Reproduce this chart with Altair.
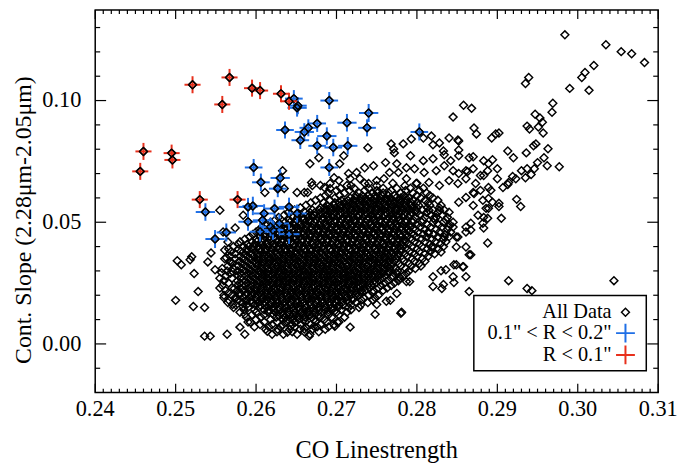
import altair as alt
import pandas as pd

FONT = "Liberation Serif"
W, H = 568, 386
X_DOM = [0.24, 0.31]
Y_DOM = [-0.02, 0.1372]
RED = "#e8301c"
BLUE = "#1f6fe6"

# ---------------- data ----------------
# "All Data": isolated / outer diamonds (CO linestrength, continuum slope)
sparse_pts = [
    (0.2984, 0.1270), (0.3035, 0.1229), (0.3054, 0.1201), (0.3067, 0.1192), (0.3083, 0.1156),
    (0.3020, 0.1144), (0.3009, 0.1115), (0.3005, 0.1095), (0.3014, 0.1042), (0.2990, 0.1050),
    (0.2939, 0.1095), (0.2935, 0.1070), (0.2969, 0.0989), (0.2968, 0.0952), (0.2947, 0.0944),
    (0.2953, 0.0928), (0.2956, 0.0911), (0.2937, 0.0895), (0.2940, 0.0883), (0.2951, 0.0891),
    (0.2957, 0.0867), (0.2858, 0.0981), (0.2868, 0.0968), (0.2871, 0.0887), (0.2874, 0.0863),
    (0.2893, 0.0846), (0.2898, 0.0863), (0.2902, 0.0867), (0.2852, 0.0834), (0.2852, 0.0797),
    (0.2870, 0.0769), (0.2913, 0.0793), (0.2920, 0.0765), (0.2936, 0.0785), (0.2945, 0.0814),
    (0.2948, 0.0822), (0.2963, 0.0802), (0.2958, 0.0765), (0.2950, 0.0745), (0.2962, 0.0732),
    (0.2977, 0.0728), (0.2883, 0.0753), (0.2889, 0.0740), (0.2894, 0.0757), (0.2900, 0.0720),
    (0.2888, 0.0712), (0.2883, 0.0692), (0.2861, 0.0712), (0.2852, 0.0700), (0.2930, 0.0712),
    (0.2937, 0.0720), (0.2946, 0.0720), (0.2942, 0.0696), (0.2935, 0.0683), (0.2919, 0.0688),
    (0.2923, 0.0679), (0.2913, 0.0655), (0.2914, 0.0663), (0.2900, 0.0679), (0.2907, 0.0643),
    (0.2892, 0.0631), (0.2879, 0.0631), (0.2870, 0.0622), (0.2882, 0.0590), (0.2889, 0.0598),
    (0.2902, 0.0578), (0.2894, 0.0582), (0.2902, 0.0565), (0.2924, 0.0594), (0.2929, 0.0565),
    (0.2886, 0.0557), (0.2883, 0.0520), (0.2905, 0.0516), (0.2882, 0.0496), (0.2867, 0.0496),
    (0.2861, 0.0480), (0.2867, 0.0468), (0.2888, 0.0415), (0.2851, 0.0439), (0.2861, 0.0398),
    (0.2867, 0.0366), (0.2857, 0.0317), (0.2861, 0.0276), (0.2914, 0.0260), (0.2937, 0.0228),
    (0.2943, 0.0219), (0.3045, 0.0260), (0.2865, 0.0215),
    (0.2845, 0.0932), (0.2818, 0.0854), (0.2828, 0.0826), (0.2840, 0.0846), (0.2851, 0.0838),
    (0.2833, 0.0793), (0.2820, 0.0818), (0.2808, 0.0846), (0.2793, 0.0842), (0.2783, 0.0822),
    (0.2768, 0.0822), (0.2771, 0.0801), (0.2772, 0.0785), (0.2792, 0.0773), (0.2808, 0.0753),
    (0.2820, 0.0761), (0.2834, 0.0777), (0.2842, 0.0753), (0.2852, 0.0773), (0.2865, 0.0765),
    (0.2870, 0.0720), (0.2863, 0.0708), (0.2845, 0.0712), (0.2834, 0.0732), (0.2824, 0.0712),
    (0.2809, 0.0704), (0.2797, 0.0720), (0.2787, 0.0724), (0.2775, 0.0740), (0.2761, 0.0745),
    (0.2739, 0.0806), (0.2746, 0.0732), (0.2735, 0.0724), (0.2725, 0.0704), (0.2715, 0.0700),
    (0.2704, 0.0740), (0.2709, 0.0773), (0.2667, 0.0740), (0.2678, 0.0765), (0.2669, 0.0663),
    (0.2680, 0.0651), (0.2692, 0.0659), (0.2697, 0.0683), (0.2703, 0.0671), (0.2713, 0.0651),
    (0.2729, 0.0679), (0.2740, 0.0659), (0.2750, 0.0671), (0.2759, 0.0679), (0.2766, 0.0704),
    (0.2777, 0.0704), (0.2787, 0.0679), (0.2799, 0.0659), (0.2815, 0.0663), (0.2828, 0.0651),
    (0.2840, 0.0671), (0.2851, 0.0659), (0.2861, 0.0679), (0.2873, 0.0659), (0.2879, 0.0692),
    (0.2889, 0.0643), (0.2871, 0.0618), (0.2861, 0.0602), (0.2852, 0.0582), (0.2870, 0.0569),
    (0.2876, 0.0529), (0.2889, 0.0557), (0.2888, 0.0516), (0.2883, 0.0476), (0.2861, 0.0460),
    (0.2849, 0.0439), (0.2834, 0.0439), (0.2839, 0.0480), (0.2821, 0.0516), (0.2815, 0.0549),
    (0.2828, 0.0549), (0.2840, 0.0541), (0.2845, 0.0500), (0.2814, 0.0455), (0.2664, 0.0622),
    (0.2651, 0.0622), (0.2717, 0.0679), (0.2692, 0.0639), (0.2685, 0.0643), (0.2670, 0.0651),
    (0.2660, 0.0622), (0.2635, 0.0639), (0.2633, 0.0712), (0.2627, 0.0643), (0.2611, 0.0622),
    (0.2555, 0.0549), (0.2584, 0.0529), (0.2559, 0.0460), (0.2565, 0.0419), (0.2544, 0.0374),
    (0.2520, 0.0358),
    (0.2502, 0.0342), (0.2507, 0.0325), (0.2518, 0.0346), (0.2523, 0.0289), (0.2528, 0.0215),
    (0.2500, 0.0179), (0.2522, 0.0154), (0.2536, 0.0150), (0.2536, 0.0032), (0.2543, 0.0032),
    (0.2564, 0.0040), (0.2586, 0.0040), (0.2614, 0.0052), (0.2580, 0.0069), (0.2593, 0.0089),
    (0.2540, 0.0337), (0.2549, 0.0305), (0.2557, 0.0293), (0.2561, 0.0386), (0.2563, 0.0354),
    (0.2569, 0.0337), (0.2574, 0.0476), (0.2571, 0.0297), (0.2573, 0.0228), (0.2575, 0.0191),
    (0.2571, 0.0162), (0.2584, 0.0154), (0.2586, 0.0122), (0.2639, 0.0048), (0.2666, 0.0032),
    (0.2660, 0.0061), (0.2643, 0.0073),
    (0.2717, 0.0069), (0.2781, 0.0130), (0.2748, 0.0122), (0.2762, 0.0175), (0.2775, 0.0207),
    (0.2787, 0.0256), (0.2820, 0.0276), (0.2820, 0.0236), (0.2833, 0.0244), (0.2845, 0.0276),
    (0.2849, 0.0325), (0.2865, 0.0366), (0.2836, 0.0305), (0.2830, 0.0378), (0.2849, 0.0398),
    (0.2846, 0.0325), (0.2858, 0.0317), (0.2846, 0.0252), (0.2830, 0.0301), (0.2831, 0.0228),
    (0.2818, 0.0398), (0.2791, 0.0256), (0.2778, 0.0276), (0.2767, 0.0179), (0.2750, 0.0162),
    (0.2780, 0.0126), (0.2698, 0.0073), (0.2701, 0.0089), (0.2672, 0.0073),
]

# "All Data": the crowded core, read as rows of continuum slope, each with the
# CO linestrengths (in units of 1e-4) of the diamonds along it
core_rows = [
    (0.004, [2620, 2634, 2651, 2667]),
    (0.005, [2626, 2645, 2660, 2678]),
    (0.006, [2612, 2627, 2642, 2655, 2670, 2686]),
    (0.007, [2598, 2616, 2631, 2648, 2662, 2676, 2690]),
    (0.008, [2605, 2620, 2633, 2645, 2656, 2668, 2680, 2697]),
    (0.009, [2590, 2610, 2626, 2637, 2649, 2661, 2674, 2688, 2703]),
    (0.010, [2600, 2618, 2634, 2640, 2646, 2653, 2660, 2672, 2685]),
    (0.011, [2588, 2606, 2625, 2636, 2644, 2652, 2661, 2669, 2680, 2694, 2710]),
    (0.012, [2595, 2610, 2622, 2628, 2634, 2641, 2647, 2653, 2660, 2666, 2672, 2678, 2690, 2703]),
    (0.013, [2580, 2600, 2615, 2624, 2632, 2640, 2648, 2656, 2664, 2672, 2681, 2690, 2700, 2713]),
    (0.014, [2585, 2598, 2610, 2616, 2622, 2629, 2635, 2641, 2647, 2654, 2660, 2666, 2672, 2679,
             2685, 2690, 2695, 2706, 2718]),
    (0.015, [2572, 2590, 2604, 2613, 2621, 2629, 2637, 2645, 2653, 2662, 2670, 2678, 2686, 2694,
             2702, 2715, 2728]),
    (0.016, [2575, 2588, 2599, 2605, 2611, 2618, 2624, 2630, 2636, 2643, 2649, 2655, 2661, 2668,
             2674, 2680, 2686, 2692, 2698, 2703, 2708, 2718, 2730]),
    (0.017, [2565, 2583, 2595, 2603, 2611, 2619, 2627, 2635, 2643, 2651, 2659, 2667, 2675, 2683,
             2691, 2699, 2707, 2715, 2725, 2739]),
    (0.018, [2566, 2578, 2588, 2594, 2600, 2607, 2613, 2619, 2625, 2632, 2638, 2644, 2650, 2657,
             2663, 2669, 2675, 2682, 2688, 2694, 2700, 2707, 2713, 2720, 2731, 2745]),
    (0.019, [2560, 2574, 2584, 2592, 2600, 2608, 2616, 2624, 2632, 2640, 2648, 2656, 2664, 2672,
             2680, 2688, 2696, 2704, 2712, 2720, 2734, 2748]),
    (0.020, [2560, 2570, 2579, 2587, 2594, 2601, 2607, 2613, 2619, 2625, 2631, 2638, 2644, 2650,
             2656, 2663, 2669, 2675, 2681, 2688, 2694, 2700, 2706, 2712, 2718, 2724, 2728, 2740, 2752]),
    (0.021, [2566, 2580, 2589, 2597, 2605, 2613, 2621, 2629, 2637, 2645, 2653, 2661, 2669, 2677,
             2685, 2693, 2701, 2709, 2717, 2725, 2732, 2745]),
    (0.022, [2562, 2577, 2585, 2593, 2600, 2607, 2613, 2619, 2625, 2631, 2638, 2644, 2650, 2656,
             2663, 2669, 2675, 2681, 2688, 2694, 2700, 2706, 2713, 2719, 2725, 2731, 2735, 2746, 2758]),
    (0.023, [2555, 2570, 2581, 2590, 2598, 2606, 2614, 2622, 2630, 2638, 2646, 2654, 2662, 2670,
             2678, 2686, 2694, 2702, 2710, 2718, 2726, 2734, 2741, 2752, 2763]),
    (0.024, [2558, 2577, 2586, 2594, 2601, 2608, 2614, 2621, 2627, 2633, 2639, 2646, 2652, 2658,
             2664, 2671, 2677, 2683, 2689, 2696, 2702, 2708, 2714, 2721, 2727, 2733, 2739, 2744, 2755, 2768]),
    (0.025, [2566, 2580, 2589, 2597, 2605, 2613, 2621, 2629, 2637, 2645, 2653, 2661, 2669, 2677,
             2685, 2693, 2701, 2709, 2717, 2725, 2733, 2741, 2749, 2760, 2772]),
    (0.026, [2560, 2577, 2586, 2594, 2602, 2609, 2615, 2621, 2628, 2634, 2640, 2646, 2653, 2659,
             2665, 2671, 2678, 2684, 2690, 2696, 2703, 2709, 2715, 2721, 2728, 2734, 2740, 2747, 2753,
             2764, 2777]),
    (0.027, [2555, 2570, 2581, 2590, 2598, 2606, 2614, 2622, 2630, 2638, 2646, 2654, 2662, 2670,
             2678, 2686, 2694, 2702, 2710, 2718, 2726, 2734, 2742, 2750, 2757, 2768, 2779]),
    (0.028, [2562, 2578, 2587, 2595, 2602, 2609, 2615, 2621, 2627, 2634, 2640, 2646, 2652, 2659,
             2665, 2671, 2677, 2684, 2690, 2696, 2702, 2709, 2715, 2721, 2727, 2734, 2740, 2746, 2753,
             2760, 2770, 2783]),
    (0.029, [2568, 2581, 2590, 2598, 2606, 2614, 2622, 2630, 2638, 2646, 2654, 2662, 2670, 2678,
             2686, 2694, 2702, 2710, 2718, 2726, 2734, 2742, 2750, 2758, 2765, 2775, 2787]),
    (0.030, [2564, 2577, 2586, 2594, 2603, 2609, 2615, 2622, 2628, 2634, 2640, 2647, 2653, 2659,
             2665, 2672, 2678, 2684, 2690, 2697, 2703, 2709, 2715, 2722, 2728, 2734, 2740, 2747, 2753,
             2759, 2765, 2776, 2790]),
    (0.031, [2558, 2572, 2582, 2591, 2599, 2607, 2615, 2623, 2631, 2639, 2647, 2655, 2663, 2671,
             2679, 2687, 2695, 2703, 2711, 2719, 2727, 2735, 2743, 2751, 2759, 2766, 2774, 2786, 2798]),
    (0.032, [2565, 2578, 2587, 2595, 2602, 2608, 2614, 2621, 2627, 2633, 2639, 2646, 2652, 2658,
             2664, 2671, 2677, 2683, 2689, 2696, 2702, 2708, 2714, 2721, 2727, 2733, 2739, 2746, 2752,
             2758, 2764, 2768, 2780, 2793, 2805]),
    (0.033, [2570, 2583, 2592, 2600, 2608, 2616, 2624, 2632, 2640, 2648, 2656, 2664, 2672, 2680,
             2688, 2696, 2704, 2712, 2720, 2728, 2736, 2744, 2752, 2760, 2768, 2778, 2790, 2803]),
    (0.034, [2567, 2579, 2588, 2597, 2603, 2609, 2616, 2622, 2628, 2634, 2641, 2647, 2653, 2659,
             2666, 2672, 2678, 2684, 2691, 2697, 2703, 2709, 2716, 2722, 2728, 2734, 2741, 2747, 2753,
             2759, 2766, 2772, 2784, 2797, 2810]),
    (0.035, [2561, 2574, 2584, 2593, 2601, 2609, 2617, 2625, 2633, 2641, 2649, 2657, 2665, 2673,
             2681, 2689, 2697, 2705, 2713, 2721, 2729, 2737, 2745, 2753, 2761, 2769, 2775, 2782, 2794, 2807]),
    (0.036, [2568, 2580, 2589, 2597, 2603, 2610, 2616, 2622, 2628, 2635, 2641, 2647, 2653, 2660,
             2666, 2672, 2678, 2685, 2691, 2697, 2703, 2710, 2716, 2722, 2728, 2735, 2741, 2747, 2753,
             2760, 2766, 2772, 2776, 2788, 2800, 2814]),
    (0.037, [2574, 2586, 2594, 2602, 2610, 2618, 2626, 2634, 2642, 2650, 2658, 2666, 2674, 2682,
             2690, 2698, 2706, 2714, 2722, 2730, 2738, 2746, 2754, 2762, 2770, 2777, 2785, 2797, 2810, 2822]),
    (0.038, [2569, 2581, 2589, 2599, 2605, 2611, 2618, 2624, 2630, 2636, 2643, 2649, 2655, 2661,
             2668, 2674, 2680, 2686, 2693, 2699, 2705, 2711, 2718, 2724, 2730, 2736, 2743, 2749, 2755,
             2761, 2768, 2774, 2780, 2791, 2803, 2817]),
    (0.039, [2566, 2578, 2588, 2596, 2604, 2612, 2620, 2628, 2636, 2644, 2652, 2660, 2668, 2676,
             2684, 2692, 2700, 2708, 2716, 2724, 2732, 2740, 2748, 2756, 2764, 2772, 2780, 2788, 2800,
             2813, 2827]),
    (0.040, [2572, 2584, 2591, 2597, 2603, 2609, 2615, 2622, 2628, 2634, 2640, 2647, 2653, 2659,
             2665, 2672, 2678, 2684, 2690, 2697, 2703, 2709, 2715, 2722, 2728, 2734, 2740, 2747, 2753,
             2759, 2765, 2772, 2778, 2783, 2794, 2806, 2820, 2833]),
    (0.041, [2578, 2589, 2598, 2606, 2614, 2622, 2630, 2638, 2646, 2654, 2662, 2670, 2678, 2686,
             2694, 2702, 2710, 2718, 2726, 2734, 2742, 2750, 2758, 2766, 2774, 2781, 2790, 2803, 2816, 2829]),
    (0.042, [2580, 2595, 2601, 2607, 2614, 2620, 2626, 2632, 2639, 2645, 2651, 2657, 2664, 2670,
             2676, 2682, 2689, 2695, 2701, 2707, 2714, 2720, 2726, 2732, 2739, 2745, 2751, 2757, 2764,
             2770, 2776, 2782, 2786, 2797, 2810, 2823, 2836]),
    (0.043, [2586, 2600, 2609, 2617, 2625, 2633, 2641, 2649, 2657, 2665, 2673, 2681, 2689, 2697,
             2705, 2713, 2721, 2729, 2737, 2745, 2753, 2761, 2769, 2777, 2785, 2794, 2806, 2819, 2833]),
    (0.044, [2592, 2605, 2611, 2617, 2624, 2630, 2636, 2642, 2649, 2655, 2661, 2667, 2674, 2680,
             2686, 2692, 2699, 2705, 2711, 2717, 2724, 2730, 2736, 2742, 2749, 2755, 2761, 2767, 2774,
             2780, 2788, 2799, 2812, 2826, 2840]),
    (0.045, [2596, 2610, 2619, 2627, 2635, 2643, 2651, 2659, 2667, 2675, 2683, 2691, 2699, 2707,
             2715, 2723, 2731, 2739, 2747, 2755, 2763, 2771, 2779, 2787, 2796, 2808, 2821, 2835]),
    (0.046, [2600, 2615, 2621, 2627, 2634, 2640, 2646, 2652, 2659, 2665, 2671, 2677, 2684, 2690,
             2696, 2702, 2709, 2715, 2721, 2727, 2734, 2740, 2746, 2752, 2759, 2765, 2771, 2777, 2784,
             2790, 2801, 2814, 2828, 2842]),
    (0.047, [2604, 2620, 2629, 2637, 2645, 2653, 2661, 2669, 2677, 2685, 2693, 2701, 2709, 2717,
             2725, 2733, 2741, 2749, 2757, 2765, 2773, 2781, 2789, 2798, 2810, 2824, 2838]),
    (0.048, [2608, 2625, 2631, 2637, 2644, 2650, 2656, 2662, 2669, 2675, 2681, 2687, 2694, 2700,
             2706, 2712, 2719, 2725, 2731, 2737, 2744, 2750, 2756, 2762, 2769, 2775, 2781, 2787, 2792,
             2804, 2817, 2831, 2845]),
    (0.049, [2614, 2630, 2639, 2647, 2655, 2663, 2671, 2679, 2687, 2695, 2703, 2711, 2719, 2727,
             2735, 2743, 2751, 2759, 2767, 2775, 2783, 2791, 2800, 2813, 2827, 2841]),
    (0.050, [2618, 2636, 2642, 2648, 2655, 2661, 2667, 2673, 2680, 2686, 2692, 2698, 2705, 2711,
             2717, 2723, 2730, 2736, 2742, 2748, 2755, 2761, 2767, 2773, 2780, 2786, 2795, 2806, 2820,
             2833]),
    (0.051, [2624, 2641, 2650, 2658, 2666, 2674, 2682, 2690, 2698, 2706, 2714, 2722, 2730, 2738,
             2746, 2754, 2762, 2770, 2778, 2786, 2795, 2807, 2822, 2836]),
    (0.052, [2628, 2646, 2652, 2658, 2665, 2671, 2677, 2683, 2690, 2696, 2702, 2708, 2715, 2721,
             2727, 2733, 2740, 2746, 2752, 2758, 2765, 2771, 2777, 2783, 2790, 2798, 2810, 2824, 2838]),
    (0.053, [2635, 2655, 2664, 2672, 2680, 2688, 2696, 2704, 2712, 2720, 2728, 2736, 2744, 2752,
             2760, 2768, 2776, 2784, 2792, 2804, 2818, 2832]),
    (0.054, [2640, 2661, 2667, 2673, 2680, 2686, 2692, 2698, 2705, 2711, 2717, 2723, 2730, 2736,
             2742, 2748, 2755, 2761, 2767, 2773, 2780, 2786, 2793, 2800, 2812, 2826]),
    (0.055, [2648, 2670, 2679, 2687, 2695, 2703, 2711, 2719, 2727, 2735, 2743, 2751, 2759, 2767,
             2775, 2783, 2791, 2799, 2807, 2820, 2834]),
    (0.056, [2655, 2680, 2686, 2692, 2699, 2705, 2711, 2717, 2724, 2730, 2736, 2742, 2749, 2755,
             2761, 2767, 2774, 2780, 2787, 2794, 2800, 2813, 2828]),
    (0.057, [2662, 2688, 2697, 2705, 2713, 2721, 2729, 2737, 2745, 2753, 2761, 2769, 2777, 2785,
             2793, 2802, 2816, 2830]),
    (0.058, [2668, 2684, 2698, 2704, 2710, 2717, 2723, 2729, 2735, 2742, 2748, 2754, 2760, 2767,
             2773, 2779, 2786, 2793, 2800, 2814]),
    (0.059, [2674, 2692, 2706, 2714, 2722, 2730, 2738, 2746, 2754, 2762, 2770, 2778, 2786, 2795,
             2810, 2826]),
    (0.060, [2680, 2698, 2717, 2723, 2730, 2736, 2742, 2748, 2755, 2761, 2767, 2774, 2780, 2786,
             2790, 2805, 2820]),
    (0.061, [2686, 2704, 2724, 2732, 2740, 2748, 2756, 2764, 2772, 2784, 2800, 2816]),
    (0.062, [2690, 2710, 2728, 2745, 2751, 2758, 2765, 2780, 2795, 2812]),
    (0.063, [2700, 2716, 2735, 2750, 2768, 2786, 2803]),
    (0.064, [2705, 2722, 2740, 2758, 2775, 2792, 2808]),
    (0.065, [2718, 2750, 2785]),
    (0.066, [2735, 2770, 2800]),
]

# 0.1" < R < 0.2" (blue)
blue_x = [0.2647, 0.2651, 0.2652, 0.2691, 0.2740, 0.2738, 0.2713, 0.2676, 0.2665, 0.2660,
          0.2636, 0.2655, 0.2688, 0.2676, 0.2696, 0.2714, 0.2691, 0.2597, 0.2606, 0.2630,
          0.2627, 0.2537, 0.2590, 0.2596, 0.2590, 0.2610, 0.2623, 0.2641, 0.2651, 0.2605,
          0.2618, 0.2621, 0.2641, 0.2549, 0.2563, 0.2629, 0.2608, 0.2803]
blue_y = [0.1008, 0.0970, 0.0979, 0.1000, 0.0949, 0.0888, 0.0909, 0.0906, 0.0888, 0.0871,
          0.0879, 0.0837, 0.0854, 0.0814, 0.0807, 0.0814, 0.0725, 0.0725, 0.0664, 0.0682,
          0.0638, 0.0542, 0.0563, 0.0567, 0.0502, 0.0536, 0.0556, 0.0563, 0.0536, 0.0461,
          0.0481, 0.0468, 0.0451, 0.0431, 0.0458, 0.0495, 0.0508, 0.0871]
blue_xerr = [0.0011, 0.0012, 0.0011, 0.0011, 0.0012, 0.0011, 0.0012, 0.0011, 0.0011, 0.0012,
             0.0011, 0.0011, 0.0012, 0.0011, 0.0011, 0.0012, 0.0011, 0.0011, 0.0011, 0.0012,
             0.0011, 0.0012, 0.0012, 0.0013, 0.0012, 0.0013, 0.0012, 0.0013, 0.0012, 0.0013,
             0.0012, 0.0013, 0.0013, 0.0012, 0.0012, 0.0012, 0.0012, 0.0011]
blue_yerr = [0.0035, 0.0036, 0.0035, 0.0035, 0.0037, 0.0035, 0.0036, 0.0035, 0.0035, 0.0036,
             0.0035, 0.0036, 0.0036, 0.0035, 0.0036, 0.0036, 0.0035, 0.0035, 0.0036, 0.0036,
             0.0035, 0.0036, 0.0037, 0.0038, 0.0037, 0.0038, 0.0037, 0.0038, 0.0037, 0.0040,
             0.0038, 0.0040, 0.0040, 0.0037, 0.0037, 0.0038, 0.0038, 0.0035]

# R < 0.1" (red)
red_x = [0.2521, 0.2567, 0.2595, 0.2605, 0.2558, 0.2631, 0.2641, 0.2460, 0.2456, 0.2495,
         0.2496, 0.2530, 0.2577]
red_y = [0.1065, 0.1095, 0.1051, 0.1041, 0.0984, 0.1028, 0.0997, 0.0791, 0.0709, 0.0784,
         0.0756, 0.0593, 0.0593]
red_xerr = [0.0010, 0.0010, 0.0010, 0.0010, 0.0010, 0.0010, 0.0010, 0.0010, 0.0010, 0.0010,
            0.0010, 0.0010, 0.0010]
red_yerr = [0.0035, 0.0035, 0.0035, 0.0035, 0.0035, 0.0035, 0.0035, 0.0035, 0.0035, 0.0035,
            0.0035, 0.0035, 0.0035]

x_major = [0.24, 0.25, 0.26, 0.27, 0.28, 0.29, 0.30, 0.31]
x_labels = ["0.24", "0.25", "0.26", "0.27", "0.28", "0.29", "0.30", "0.31"]
y_major = [0.00, 0.05, 0.10]
y_labels = ["0.00", "0.05", "0.10"]
y_minor = [-0.01, 0.01, 0.02, 0.03, 0.04, 0.06, 0.07, 0.08, 0.09, 0.11, 0.12, 0.13]
x_minor = [round(0.24 + 0.001 * i, 3) for i in range(1, 70) if i % 10 != 0]

x_title = "CO Linestrength"
y_title = "Cont. Slope (2.28μm-2.05μm)"
legend_labels = ["All Data", '0.1" < R < 0.2"', 'R < 0.1"']

# ---------------- tables ----------------
core_x = [xv / 1e4 for yv, xs in core_rows for xv in xs]
core_y = [yv for yv, xs in core_rows for xv in xs]
all_df = pd.DataFrame({
    "x": [p[0] for p in sparse_pts] + core_x + blue_x + red_x,
    "y": [p[1] for p in sparse_pts] + core_y + blue_y + red_y,
})


def err_df(xs, ys, xe, ye):
    d = pd.DataFrame({"x": xs, "y": ys, "xe": xe, "ye": ye})
    d["x0"] = d.x - d.xe
    d["x1"] = d.x + d.xe
    d["y0"] = d.y - d.ye
    d["y1"] = d.y + d.ye
    return d


blue_df = err_df(blue_x, blue_y, blue_xerr, blue_yerr)
red_df = err_df(red_x, red_y, red_xerr, red_yerr)

xs_ = alt.Scale(domain=X_DOM, nice=False, zero=False)
ys_ = alt.Scale(domain=Y_DOM, nice=False, zero=False)


def X(f):
    return alt.X(f, scale=xs_, axis=None)


def Y(f):
    return alt.Y(f, scale=ys_, axis=None)


diamond = dict(shape="diamond", size=64, filled=False, color="black",
               strokeWidth=1.45, opacity=1)

base_points = alt.Chart(all_df).mark_point(**diamond).encode(x=X("x:Q"), y=Y("y:Q"))


def bars(d, color):
    h = alt.Chart(d).mark_rule(color=color, strokeWidth=2).encode(
        x=X("x0:Q"), x2="x1:Q", y=Y("y:Q"))
    v = alt.Chart(d).mark_rule(color=color, strokeWidth=2).encode(
        x=X("x:Q"), y=Y("y0:Q"), y2="y1:Q")
    c = alt.Chart(d).mark_point(**diamond).encode(x=X("x:Q"), y=Y("y:Q"))
    return [h, v, c]


one = pd.DataFrame({"a": [0]})


def xtick(vals, y0, y1):
    return alt.Chart(pd.DataFrame({"v": vals})).mark_rule(color="black", strokeWidth=1.2).encode(
        x=X("v:Q"), y=alt.value(y0), y2=alt.value(y1))


def ytick(vals, x0, x1):
    return alt.Chart(pd.DataFrame({"v": vals})).mark_rule(color="black", strokeWidth=1.2).encode(
        y=Y("v:Q"), x=alt.value(x0), x2=alt.value(x1))


ticks = [
    xtick(x_minor, H, H - 4), xtick(x_major, H, H - 9),
    xtick(x_minor, 0, 4), xtick(x_major, 0, 9),
    ytick(y_minor, 0, 5), ytick(y_major, 0, 11),
    ytick(y_minor, W, W - 5), ytick(y_major, W, W - 11),
]

# tick labels and axis titles
txt = dict(font=FONT, color="black")
labels = [
    alt.Chart(pd.DataFrame({"v": x_major, "t": x_labels})).mark_text(
        align="center", baseline="middle", fontSize=22.5, **txt).encode(
        x=X("v:Q"), y=alt.value(H + 17), text="t:N"),
    alt.Chart(pd.DataFrame({"v": y_major, "t": y_labels})).mark_text(
        align="right", baseline="middle", fontSize=22.5, **txt).encode(
        y=Y("v:Q"), x=alt.value(-14), text="t:N"),
    alt.Chart(one).mark_text(align="center", baseline="middle", fontSize=24.5, **txt).encode(
        x=alt.value(W / 2), y=alt.value(445), text=alt.value(x_title)),
    alt.Chart(one).mark_text(align="center", baseline="middle", fontSize=24, angle=270,
                             **txt).encode(
        x=alt.value(-72), y=alt.value(212), text=alt.value(y_title)),
]

# legend
LX0, LX1, LY0, LY1 = 382, 556, 288, 364
TX, SX = 521, 535
rows_y = [305, 326, 348]
legend = [
    alt.Chart(one).mark_rect(fill="white", stroke="black", strokeWidth=1.5).encode(
        x=alt.value(LX0), x2=alt.value(LX1), y=alt.value(LY0), y2=alt.value(LY1)),
]
for lab, yy in zip(legend_labels, rows_y):
    legend.append(alt.Chart(one).mark_text(
        align="right", baseline="middle", fontSize=20.5, **txt).encode(
        x=alt.value(TX), y=alt.value(yy), text=alt.value(lab)))
legend.append(alt.Chart(one).mark_point(**diamond).encode(x=alt.value(SX), y=alt.value(rows_y[0])))
for col, yy in [(BLUE, rows_y[1]), (RED, rows_y[2])]:
    legend.append(alt.Chart(one).mark_point(
        shape="M-1,0L1,0M0,-1L0,1", size=361, filled=False, stroke=col, strokeWidth=2,
        opacity=1).encode(x=alt.value(SX), y=alt.value(yy)))

chart = alt.layer(
    base_points, *bars(blue_df, BLUE), *bars(red_df, RED), *legend, *ticks, *labels
).properties(
    width=W, height=H,
    autosize=alt.AutoSizeParams(type="none"),
    padding={"left": 88, "top": 0, "right": 20, "bottom": 70},
).configure_view(stroke="black", strokeWidth=1.5)

chart.save("out.html", embed_options={"renderer": "svg", "actions": False})
